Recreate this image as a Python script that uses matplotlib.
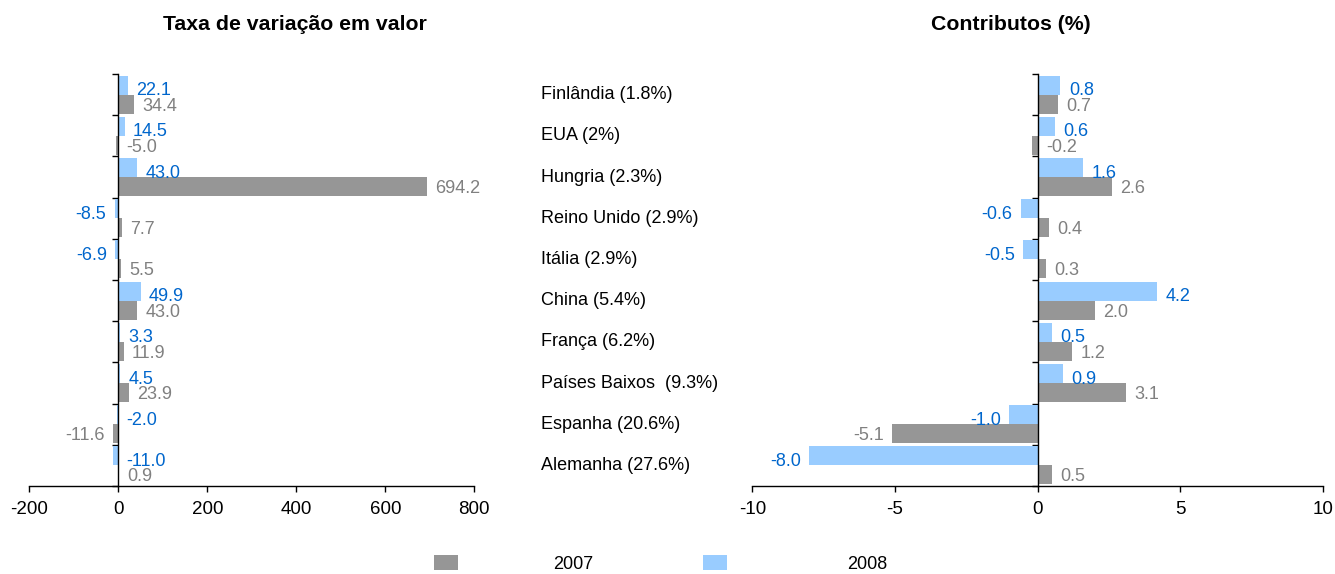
import matplotlib
matplotlib.use("Agg")
import matplotlib.pyplot as plt
import numpy as np
from matplotlib.patches import Patch

plt.rcParams['font.family'] = ['Liberation Sans', 'DejaVu Sans']

categories = ["Finlândia (1.8%)", "EUA (2%)", "Hungria (2.3%)", "Reino Unido (2.9%)",
              "Itália (2.9%)", "China (5.4%)", "França (6.2%)", "Países Baixos  (9.3%)",
              "Espanha (20.6%)", "Alemanha (27.6%)"]
taxa_2007 = [34.4, -5.0, 694.2, 7.7, 5.5, 43.0, 11.9, 23.9, -11.6, 0.9]
taxa_2008 = [22.1, 14.5, 43.0, -8.5, -6.9, 49.9, 3.3, 4.5, -2.0, -11.0]
contrib_2007 = [0.7, -0.2, 2.6, 0.4, 0.3, 2.0, 1.2, 3.1, -5.1, 0.5]
contrib_2008 = [0.8, 0.6, 1.6, -0.6, -0.5, 4.2, 0.5, 0.9, -1.0, -8.0]
series_labels = ["2007", "2008"]
left_ticks = [-200, 0, 200, 400, 600, 800]
right_ticks = [-10, -5, 0, 5, 10]

# label placement style: negative labels that the original draws to the right of zero
right_side_taxa_2007 = {1}
right_side_taxa_2008 = {8, 9}
right_side_contrib_2007 = {1}
right_side_contrib_2008 = set()

GRAY = "#969696"
BLUE = "#99CCFF"
GRAY_TXT = "#808080"
BLUE_TXT = "#0066CC"
FS = 13
FS_TICK = 13.5
FS_TITLE = 15.3

W, H = 1335, 574
fig = plt.figure(figsize=(W / 100, H / 100), dpi=100)

def px_axes(x0, x1, y0, y1):
    return fig.add_axes([x0 / W, 1 - y1 / H, (x1 - x0) / W, (y1 - y0) / H])

axL = px_axes(29.3, 474.3, 74, 486)
axR = px_axes(752.3, 1323, 74, 486)

n = len(categories)
y = np.arange(n)
h = 0.46

def draw(ax, v07, v08, ticks, xlim, rs07, rs08):
    ax.barh(y + h / 2, v07, height=h, color=GRAY, zorder=2)
    ax.barh(y - h / 2, v08, height=h, color=BLUE, zorder=2)
    ax.set_xlim(*xlim)
    ax.set_ylim(n - 0.5, -0.5)
    ax.set_xticks(ticks)
    ax.set_xticklabels([str(t) for t in ticks], fontsize=FS_TICK)
    ax.set_yticks(np.arange(-0.5, n, 1.0))
    ax.set_yticklabels([])
    ax.spines['top'].set_visible(False)
    ax.spines['right'].set_visible(False)
    ax.spines['left'].set_position(('data', 0))
    ax.spines['left'].set_zorder(3)
    ax.tick_params(axis='y', length=4, direction='out', width=1)
    ax.tick_params(axis='x', length=4, direction='out', width=1, pad=7)
    for sp in ('left', 'bottom'):
        ax.spines[sp].set_linewidth(1)
    for vals, off, col, dy, rs in ((v08, -h / 2, BLUE_TXT, -4.0, rs08),
                                   (v07, h / 2, GRAY_TXT, -1.5, rs07)):
        for i, v in enumerate(vals):
            right = v >= 0 or i in rs
            anchor = max(v, 0) if right else v
            dx = 6 if right else -6
            ax.annotate("{:.1f}".format(v), xy=(anchor, i + off), xytext=(dx, dy),
                        textcoords='offset points', ha='left' if right else 'right',
                        va='center', color=col, fontsize=FS)

draw(axL, taxa_2007, taxa_2008, left_ticks, (-200, 800),
     right_side_taxa_2007, right_side_taxa_2008)
draw(axR, contrib_2007, contrib_2008, right_ticks, (-10, 10),
     right_side_contrib_2007, right_side_contrib_2008)

# category labels between the panels
for i, c in enumerate(categories):
    yy = 74 + (i + 0.5) * (412 / n)
    fig.text(541 / W, 1 - yy / H, c, ha='left', va='center', fontsize=FS)

fig.text(295 / W, 1 - 25 / H, "Taxa de variação em valor", ha='center', va='center',
         fontsize=FS_TITLE, fontweight='bold')
fig.text(1011 / W, 1 - 25 / H, "Contributos (%)", ha='center', va='center',
         fontsize=FS_TITLE, fontweight='bold')

em = FS * 100 / 72
h07 = Patch(facecolor=GRAY, edgecolor='none')
h08 = Patch(facecolor=BLUE, edgecolor='none')
leg1 = fig.legend([h07], [series_labels[0]], loc='center left',
                  bbox_to_anchor=(434 / W, 1 - 564 / H), frameon=False, fontsize=FS,
                  handlelength=24 / em, handleheight=16 / em, handletextpad=95 / em,
                  borderpad=0, borderaxespad=0)
leg2 = fig.legend([h08], [series_labels[1]], loc='center left',
                  bbox_to_anchor=(703 / W, 1 - 564 / H), frameon=False, fontsize=FS,
                  handlelength=24 / em, handleheight=16 / em, handletextpad=120 / em,
                  borderpad=0, borderaxespad=0)

fig.savefig("out.png", dpi=100)
